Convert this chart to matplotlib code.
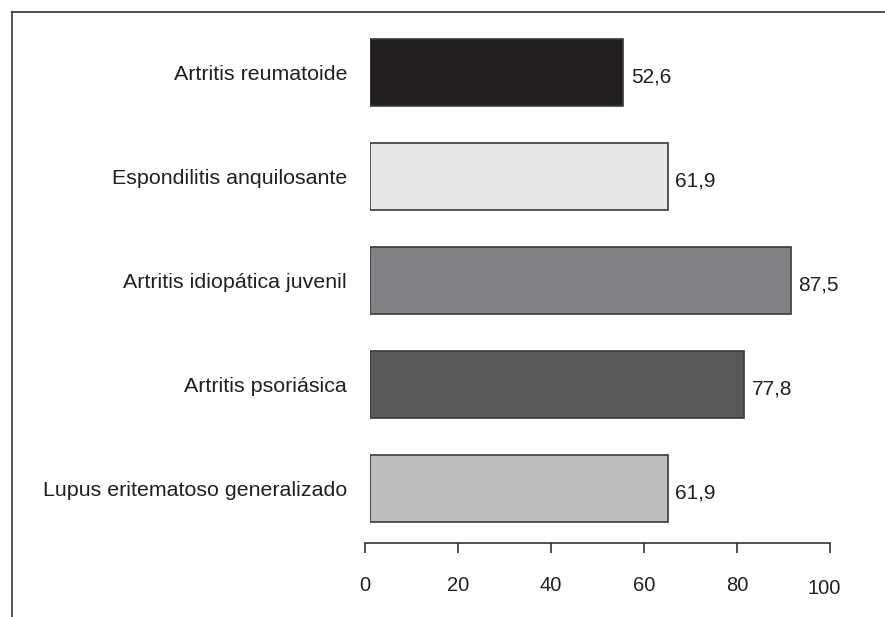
import matplotlib.pyplot as plt
from matplotlib.lines import Line2D
import matplotlib.transforms as mtransforms

plt.rcParams['font.family'] = ['Liberation Sans', 'DejaVu Sans']

categorias = ['Artritis reumatoide', 'Espondilitis anquilosante',
              'Artritis idiopática juvenil', 'Artritis psoriásica',
              'Lupus eritematoso generalizado']
valores = [52.6, 61.9, 87.5, 77.8, 61.9]
etiquetas = ['52,6', '61,9', '87,5', '77,8', '61,9']
colores = ['#231f20', '#e6e7e8', '#808285', '#58595b', '#bcbec0']
ticks = [0, 20, 40, 60, 80, 100]

W, H = 885, 617
fig = plt.figure(figsize=(W / 100, H / 100), dpi=100)

# marco exterior (arriba y a la izquierda)
fig.add_artist(Line2D([12 / W, 1], [1 - 12 / H, 1 - 12 / H], color='#333333', lw=1.2))
fig.add_artist(Line2D([12 / W, 12 / W], [0, 1 - 12 / H], color='#333333', lw=1.2))

# ejes de las barras
ax = fig.add_axes([370 / W, 1 - 540.5 / H, 481 / W, 520 / H])
y = list(range(len(categorias)))
ax.barh(y, valores, height=0.65, color=colores, edgecolor='#3a3a3a', linewidth=1.2)
ax.set_xlim(0, 100)
ax.set_ylim(len(categorias) - 0.5, -0.5)
for yi, v, t in zip(y, valores, etiquetas):
    ax.text(v + 1.6, yi + 0.04, t, va='center', ha='left', fontsize=15, color='#231f20')
ax.set_yticks(y)
ax.set_yticklabels(categorias, fontsize=15.4, color='#231f20')
ax.tick_params(axis='y', length=0, pad=16.5)
ax.set_xticks([])
for s in ax.spines.values():
    s.set_visible(False)

# regla inferior
ax2 = fig.add_axes([365 / W, 1 - 543 / H, 465 / W, 0.0001])
ax2.set_xlim(0, 100)
ax2.set_yticks([])
for s in ['top', 'left', 'right']:
    ax2.spines[s].set_visible(False)
ax2.spines['bottom'].set_color('#333333')
ax2.spines['bottom'].set_linewidth(1.2)
ax2.set_xticks(ticks)
ax2.set_xticklabels([str(t) for t in ticks], fontsize=14.5, color='#231f20')
ax2.tick_params(axis='x', direction='out', length=7, width=1.2, color='#333333', pad=17)
lab = ax2.get_xticklabels()[-1]
lab.set_transform(lab.get_transform() + mtransforms.ScaledTranslation(-0.06, -0.03, fig.dpi_scale_trans))

fig.savefig('out.png', dpi=100)
